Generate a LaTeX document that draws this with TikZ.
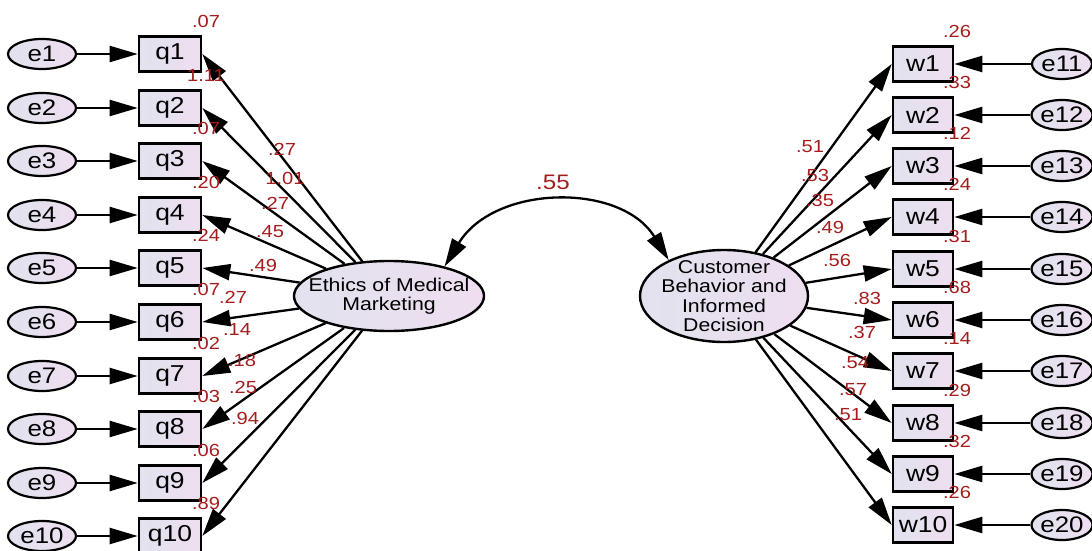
\documentclass[tikz,border=0pt]{standalone}
\usepackage{fontspec}
\setmainfont{Liberation Sans}
\newfontfamily\widesans{Liberation Sans}[FakeStretch=1.15]
\usetikzlibrary{arrows.meta}
\usetikzlibrary{shapes.geometric}

\definecolor{loadred}{RGB}{165,28,28}
\definecolor{fillleft}{RGB}{226,226,238}
\definecolor{fillright}{RGB}{238,222,240}

\tikzset{
  obs/.style={draw, line width=2.6pt, minimum width=62pt, minimum height=35pt, inner sep=0pt,
    left color=fillleft, right color=fillright, font=\widesans\fontsize{23}{25}\selectfont},
  err/.style={ellipse, draw, line width=2.2pt, minimum width=68pt, minimum height=30pt, inner sep=0pt,
    left color=fillleft, right color=fillright, font=\widesans\fontsize{22.5}{25}\selectfont},
  lat/.style={ellipse, draw, line width=2.4pt, inner sep=0pt, left color=fillleft, right color=fillright},
  lattext/.style={align=center, inner sep=0pt, font=\widesans\fontsize{18.5}{19.5}\selectfont},
  num/.style={text=loadred, inner sep=0pt, font=\widesans\fontsize{17.5}{19}\selectfont},
  load/.style={line width=2.3pt, -{Triangle[length=28pt,width=16pt]}},
}

\begin{document}
\begin{tikzpicture}[x=1pt,y=-1pt]

    \useasboundingbox (0,0) rectangle (1092,551);
    \clip (0,0) rectangle (1092,551);

    % latent variables
    \node[lat, minimum width=190pt, minimum height=70pt] (eth) at (389,296) {};
    \node[lattext] (ethtext) at (eth) {Ethics of Medical\\Marketing};
    \node[lat, minimum width=168pt, minimum height=92pt] (cust) at (724,296) {};
    \node[lattext] (custtext) at (cust) {Customer\\Behavior and\\Informed\\Decision};

    % covariance
    \draw[line width=2.3pt, {Triangle[length=28pt,width=16pt]}-{Triangle[length=28pt,width=16pt]}]
      (eth.28) .. controls +(50,-82) and +(-48,-78) .. (cust.147);
    \node[num, font=\widesans\fontsize{21}{23}\selectfont] (cov) at (553,182) {.55};

    % left indicators
    \node[obs] (q1) at (170,54) {q1};
    \node[obs] (q2) at (170,108) {q2};
    \node[obs] (q3) at (170,161) {q3};
    \node[obs] (q4) at (170,215) {q4};
    \node[obs] (q5) at (170,268) {q5};
    \node[obs] (q6) at (170,322) {q6};
    \node[obs] (q7) at (170,376) {q7};
    \node[obs] (q8) at (170,429) {q8};
    \node[obs] (q9) at (170,483) {q9};
    \node[obs] (q10) at (170,536) {q10};

    % left errors
    \node[err] (e1) at (42,54) {e1};
    \node[err] (e2) at (42,108) {e2};
    \node[err] (e3) at (42,161) {e3};
    \node[err] (e4) at (42,215) {e4};
    \node[err] (e5) at (42,268) {e5};
    \node[err] (e6) at (42,322) {e6};
    \node[err] (e7) at (42,376) {e7};
    \node[err] (e8) at (42,429) {e8};
    \node[err] (e9) at (42,483) {e9};
    \node[err] (e10) at (42,536) {e10};

    % right indicators
    \node[obs, minimum width=60pt] (w1) at (923,64) {w1};
    \node[obs, minimum width=60pt] (w2) at (923,115) {w2};
    \node[obs, minimum width=60pt] (w3) at (923,166) {w3};
    \node[obs, minimum width=60pt] (w4) at (923,217) {w4};
    \node[obs, minimum width=60pt] (w5) at (923,269) {w5};
    \node[obs, minimum width=60pt] (w6) at (923,320) {w6};
    \node[obs, minimum width=60pt] (w7) at (923,371) {w7};
    \node[obs, minimum width=60pt] (w8) at (923,423) {w8};
    \node[obs, minimum width=60pt] (w9) at (923,474) {w9};
    \node[obs, minimum width=60pt] (w10) at (923,525) {w10};

    % right errors
    \node[err, minimum width=60pt] (e11) at (1062,64) {e11};
    \node[err, minimum width=60pt] (e12) at (1062,115) {e12};
    \node[err, minimum width=60pt] (e13) at (1062,166) {e13};
    \node[err, minimum width=60pt] (e14) at (1062,217) {e14};
    \node[err, minimum width=60pt] (e15) at (1062,269) {e15};
    \node[err, minimum width=60pt] (e16) at (1062,320) {e16};
    \node[err, minimum width=60pt] (e17) at (1062,371) {e17};
    \node[err, minimum width=60pt] (e18) at (1062,423) {e18};
    \node[err, minimum width=60pt] (e19) at (1062,474) {e19};
    \node[err, minimum width=60pt] (e20) at (1062,525) {e20};

    % error paths
    \draw[load] (e1) -- (q1);
    \draw[load] (e2) -- (q2);
    \draw[load] (e3) -- (q3);
    \draw[load] (e4) -- (q4);
    \draw[load] (e5) -- (q5);
    \draw[load] (e6) -- (q6);
    \draw[load] (e7) -- (q7);
    \draw[load] (e8) -- (q8);
    \draw[load] (e9) -- (q9);
    \draw[load] (e10) -- (q10);
    \draw[load] (e11) -- (w1);
    \draw[load] (e12) -- (w2);
    \draw[load] (e13) -- (w3);
    \draw[load] (e14) -- (w4);
    \draw[load] (e15) -- (w5);
    \draw[load] (e16) -- (w6);
    \draw[load] (e17) -- (w7);
    \draw[load] (e18) -- (w8);
    \draw[load] (e19) -- (w9);
    \draw[load] (e20) -- (w10);

    % loadings
    \draw[load] (eth) -- (q1.east);
    \draw[load] (eth) -- (q2.east);
    \draw[load] (eth) -- (q3.east);
    \draw[load] (eth) -- (q4.east);
    \draw[load] (eth) -- (q5.east);
    \draw[load] (eth) -- (q6.east);
    \draw[load] (eth) -- (q7.east);
    \draw[load] (eth) -- (q8.east);
    \draw[load] (eth) -- (q9.east);
    \draw[load] (eth) -- (q10.east);
    \draw[load] (cust) -- (w1.west);
    \draw[load] (cust) -- (w2.west);
    \draw[load] (cust) -- (w3.west);
    \draw[load] (cust) -- (w4.west);
    \draw[load] (cust) -- (w5.west);
    \draw[load] (cust) -- (w6.west);
    \draw[load] (cust) -- (w7.west);
    \draw[load] (cust) -- (w8.west);
    \draw[load] (cust) -- (w9.west);
    \draw[load] (cust) -- (w10.west);

    % squared multiple correlations
    \node[num] (r1) at (206,21) {.07};
    \node[num] (r2) at (206,75) {1.11};
    \node[num] (r3) at (206,128) {.07};
    \node[num] (r4) at (206,182) {.20};
    \node[num] (r5) at (206,235) {.24};
    \node[num] (r6) at (206,289) {.07};
    \node[num] (r7) at (206,343) {.02};
    \node[num] (r8) at (206,396) {.03};
    \node[num] (r9) at (206,450) {.06};
    \node[num] (r10) at (206,503) {.89};
    \node[num] (r11) at (957,31) {.26};
    \node[num] (r12) at (957,82) {.33};
    \node[num] (r13) at (957,133) {.12};
    \node[num] (r14) at (957,184) {.24};
    \node[num] (r15) at (957,236) {.31};
    \node[num] (r16) at (957,287) {.68};
    \node[num] (r17) at (957,338) {.14};
    \node[num] (r18) at (957,390) {.29};
    \node[num] (r19) at (957,441) {.32};
    \node[num] (r20) at (957,492) {.26};

    % path weights
    \node[num] (l1) at (282,149) {.27};
    \node[num] (l2) at (285,178) {1.01};
    \node[num] (l3) at (275,203) {.27};
    \node[num] (l4) at (270,232) {.45};
    \node[num] (l5) at (263,265) {.49};
    \node[num] (l6) at (233,297) {.27};
    \node[num] (l7) at (237,329) {.14};
    \node[num] (l8) at (242,360) {.18};
    \node[num] (l9) at (243,387) {.25};
    \node[num] (l10) at (245,418) {.94};
    \node[num] (l11) at (810,147) {.51};
    \node[num] (l12) at (815,175) {.53};
    \node[num] (l13) at (820,200) {.35};
    \node[num] (l14) at (830,227) {.49};
    \node[num] (l15) at (837,260) {.56};
    \node[num] (l16) at (867,298) {.83};
    \node[num] (l17) at (862,332) {.37};
    \node[num] (l18) at (855,363) {.54};
    \node[num] (l19) at (853,390) {.57};
    \node[num] (l20) at (848,415) {.51};

\end{tikzpicture}
\end{document}
